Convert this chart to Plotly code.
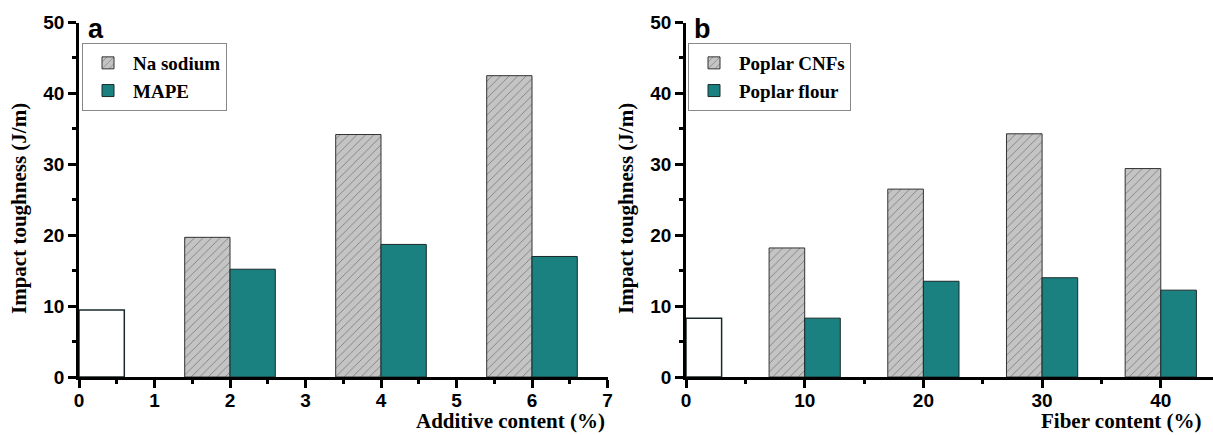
import plotly.graph_objects as go

# ---- data ----
additive_content = [2, 4, 6]
na_sodium = [19.7, 34.2, 42.5]
mape = [15.2, 18.7, 17.0]
control_a = 9.45

fiber_content = [10, 20, 30, 40]
poplar_cnfs = [18.2, 26.5, 34.3, 29.4]
poplar_flour = [8.3, 13.5, 14.0, 12.25]
control_b = 8.3

W, H = 1213, 435
TEAL = "#1B8080"
HATCH_BG = "#C4C4C4"
HATCH_FG = "#3A3A3A"

fig = go.Figure()

def hatched(x, y, width, name, xa, ya, legend):
    return go.Bar(x=x, y=y, width=width, offset=-width, name=name,
                  xaxis=xa, yaxis=ya, legend=legend,
                  marker=dict(color=HATCH_BG,
                              line=dict(color="#333333", width=1),
                              pattern=dict(shape="/", fgcolor=HATCH_FG, bgcolor=HATCH_BG,
                                           size=6, solidity=0.15, fillmode="overlay")))

def teal(x, y, width, name, xa, ya, legend):
    return go.Bar(x=x, y=y, width=width, offset=0, name=name,
                  xaxis=xa, yaxis=ya, legend=legend,
                  marker=dict(color=TEAL, line=dict(color="#1a2a2a", width=1)))

def control(x, y, width, xa, ya):
    return go.Bar(x=[x], y=[y], width=width, offset=0, showlegend=False,
                  xaxis=xa, yaxis=ya,
                  marker=dict(color="white", line=dict(color="#1a2a2a", width=1.5)))

fig.add_trace(control(0, control_a, 0.6, "x", "y"))
fig.add_trace(hatched(additive_content, na_sodium, 0.6, "Na sodium", "x", "y", "legend"))
fig.add_trace(teal(additive_content, mape, 0.6, "MAPE", "x", "y", "legend"))

fig.add_trace(control(0, control_b, 3, "x2", "y2"))
fig.add_trace(hatched(fiber_content, poplar_cnfs, 3, "Poplar CNFs", "x2", "y2", "legend2"))
fig.add_trace(teal(fiber_content, poplar_flour, 3, "Poplar flour", "x2", "y2", "legend2"))

ydom = [(H - 377) / H, (H - 22.5) / H]
tickfont = dict(family="Liberation Sans", size=19, color="black", weight="bold")

common_x = dict(showline=True, linecolor="black", linewidth=2.5, ticks="outside",
                ticklen=8, tickwidth=2.5, tickcolor="black", showgrid=False,
                zeroline=False, tickfont=tickfont, automargin=False,
                minor=dict(ticks="outside", ticklen=4, tickwidth=2.5, tickcolor="black"))
common_y = dict(common_x)

legend_font = dict(family="Liberation Serif", size=19, color="black", weight="bold")

fig.update_layout(
    width=W, height=H, margin=dict(l=0, r=0, t=0, b=0),
    paper_bgcolor="white", plot_bgcolor="white", barmode="overlay",
    xaxis=dict(common_x, domain=[79 / W, 607.5 / W], range=[0, 7], dtick=1,
               anchor="y", ticklabelstandoff=-4, minor=dict(common_x["minor"], dtick=0.5)),
    yaxis=dict(common_y, domain=ydom, range=[0, 50], dtick=10, anchor="x",
               minor=dict(common_y["minor"], dtick=5)),
    xaxis2=dict(common_x, domain=[686 / W, 1.0], range=[0, 44.4], dtick=10,
                anchor="y2", ticklabelstandoff=-4, minor=dict(common_x["minor"], dtick=5)),
    yaxis2=dict(common_y, domain=ydom, range=[0, 50], dtick=10, anchor="x2",
                minor=dict(common_y["minor"], dtick=5)),
    legend=dict(x=82 / W, y=1 - 43 / H, xanchor="left", yanchor="top",
                bgcolor="white", bordercolor="#888888", borderwidth=1,
                font=legend_font, itemwidth=40, tracegroupgap=0),
    legend2=dict(x=688 / W, y=1 - 43 / H, xanchor="left", yanchor="top",
                 bgcolor="white", bordercolor="#888888", borderwidth=1,
                 font=legend_font, itemwidth=40, tracegroupgap=0),
)

title_font = dict(family="Liberation Serif", size=21, color="black", weight="bold")
ann = [
    dict(text="Additive content (%)", x=607 / W, y=1 - 421 / H, xanchor="right", yanchor="middle"),
    dict(text="Fiber content (%)", x=1204 / W, y=1 - 421 / H, xanchor="right", yanchor="middle"),
    dict(text="Impact toughness (J/m)", x=19 / W, y=1 - 209 / H, textangle=-90,
         xanchor="center", yanchor="middle"),
    dict(text="Impact toughness (J/m)", x=626 / W, y=1 - 209 / H, textangle=-90,
         xanchor="center", yanchor="middle"),
]
for a in ann:
    fig.add_annotation(xref="paper", yref="paper", showarrow=False, font=title_font, **a)

panel_font = dict(family="Liberation Sans", size=27, color="black", weight="bold")
fig.add_annotation(text="a", xref="paper", yref="paper", x=86 / W, y=1 - 29 / H,
                   xanchor="left", yanchor="middle", showarrow=False, font=panel_font)
fig.add_annotation(text="b", xref="paper", yref="paper", x=692 / W, y=1 - 29 / H,
                   xanchor="left", yanchor="middle", showarrow=False, font=panel_font)

fig.write_html("out.html", config={"displayModeBar": False},
               post_script="document.body.style.margin='0';document.body.style.padding='0';")
